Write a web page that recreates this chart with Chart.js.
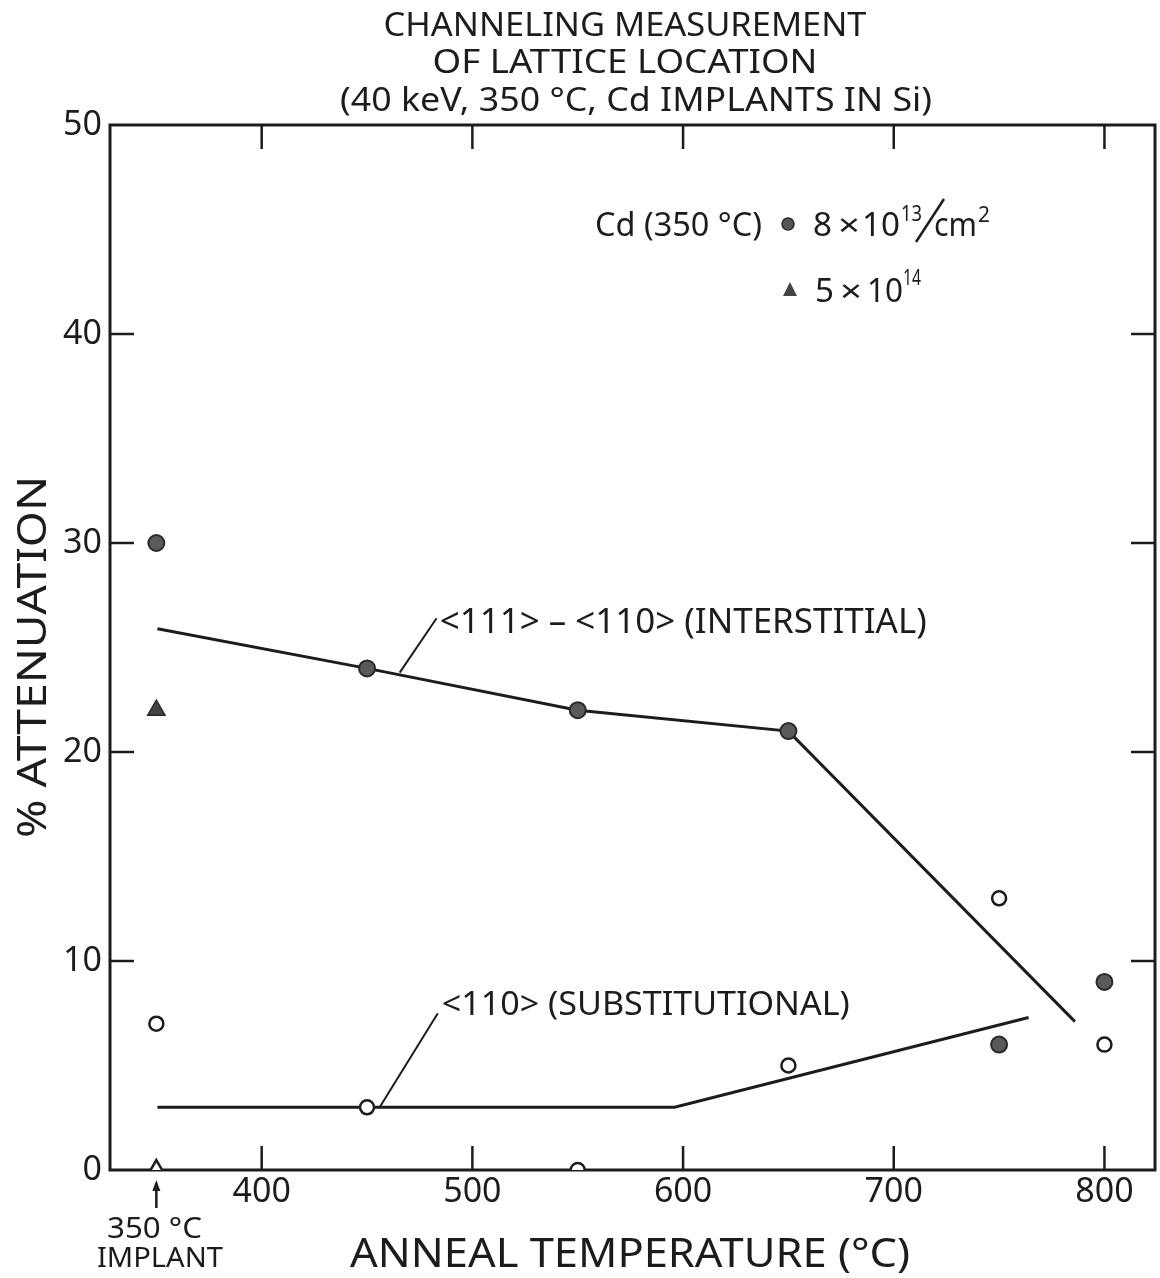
<!DOCTYPE html>
<html>
<head>
<meta charset="utf-8">
<title>Channeling measurement of lattice location</title>
<script src="https://cdn.jsdelivr.net/npm/chart.js@4.4.1/dist/chart.umd.min.js"></script>
<style>
  html, body { margin: 0; padding: 0; background: #fff; }
  #wrap { width: 1160px; height: 1278px; }
</style>
</head>
<body>
<div id="wrap"><canvas id="chart" width="1160" height="1278"></canvas></div>
<script>
// anneal temperatures in °C (350 = as implanted)
const temps = [350, 450, 550, 650, 750, 800];
// 8x10^13/cm^2 dose: <111>-<110> attenuation (filled circles)
const interstitialPct = [30, 24, 22, 21, 6, 9];
// 8x10^13/cm^2 dose: <110> attenuation (open circles)
const substitutionalPct = [7, 3, 0, 5, 13, 6];
// 5x10^14 dose, measured only after the implant
const highDoseTemps = [350];
const highDoseInterstitial = [22];
const highDoseSubstitutional = [0];

// hand drawn trend lines
const interstitialFitX = [350.5, 450, 550, 650, 786];
const interstitialFitY = [25.9, 24, 22, 21, 7.1];
const substitutionalFitX = [350.5, 596, 764];
const substitutionalFitY = [3, 3, 7.3];

const xTicks = [400, 500, 600, 700, 800];
const yTicks = [0, 10, 20, 30, 40, 50];

const INK = '#1c1c1c';
const FONT = '"Noto Sans", "DejaVu Sans", sans-serif';

const pts = (xs, ys) => xs.map((x, i) => ({ x, y: ys[i] }));

// text squeezed/stretched to a given width (lettering-guide look)
function letter(ctx, str, x, y, size, width, align, rot) {
    ctx.save();
    ctx.font = size + 'px ' + FONT;
    const w = ctx.measureText(str).width;
    const k = width ? width / w : 1;
    ctx.translate(x, y);
    if (rot) ctx.rotate(rot);
    ctx.scale(k, 1);
    ctx.textAlign = align || 'left';
    ctx.textBaseline = 'alphabetic';
    ctx.fillStyle = INK;
    ctx.fillText(str, 0, 0);
    ctx.restore();
}

function seg(ctx, x1, y1, x2, y2, lw) {
    ctx.beginPath();
    ctx.moveTo(x1, y1);
    ctx.lineTo(x2, y2);
    ctx.lineWidth = lw || 2.5;
    ctx.strokeStyle = INK;
    ctx.stroke();
}

const framePlugin = {
    id: 'frame',
    beforeDatasetsDraw(chart) {
        const { ctx, chartArea: a, scales: { x, y } } = chart;
        const tl = 24;
        ctx.save();
        ctx.lineCap = 'square';
        ctx.strokeStyle = INK;
        ctx.lineWidth = 3;
        ctx.strokeRect(a.left, a.top, a.right - a.left, a.bottom - a.top);
        ctx.lineCap = 'butt';
        xTicks.forEach(v => {
            const px = x.getPixelForValue(v);
            seg(ctx, px, a.bottom, px, a.bottom - tl, 2.5);
            seg(ctx, px, a.top, px, a.top + tl, 2.5);
        });
        yTicks.slice(1, -1).forEach(v => {
            const py = y.getPixelForValue(v);
            seg(ctx, a.left, py, a.left + tl, py, 2.5);
            seg(ctx, a.right, py, a.right - tl, py, 2.5);
        });

        // leader lines from the labels to the curves
        seg(ctx, x.getPixelForValue(465.5), y.getPixelForValue(23.8),
                 x.getPixelForValue(483), y.getPixelForValue(26.4), 2);
        seg(ctx, x.getPixelForValue(456), y.getPixelForValue(3.0),
                 x.getPixelForValue(483.6), y.getPixelForValue(7.5), 2);
        ctx.restore();
    },
    afterDraw(chart) {
        const { ctx, scales: { x, y } } = chart;
        ctx.save();

        // title block
        letter(ctx, 'CHANNELING MEASUREMENT', 625, 36, 32, 483, 'center');
        letter(ctx, 'OF LATTICE LOCATION', 625, 73, 32, 385, 'center');
        letter(ctx, '(40 keV, 350 °C, Cd IMPLANTS IN Si)', 636, 111, 32, 592, 'center');

        // axis titles
        letter(ctx, '% ATTENUATION', 46, 657, 40, 362, 'center', -Math.PI / 2);
        letter(ctx, 'ANNEAL TEMPERATURE (°C)', 350, 1267, 40, 560, 'left');

        // implant marker under the axis
        const ix = x.getPixelForValue(350);
        seg(ctx, ix, 1208, ix, 1188, 2.5);
        ctx.beginPath();
        ctx.moveTo(ix, 1180);
        ctx.lineTo(ix - 4, 1191);
        ctx.lineTo(ix + 4, 1191);
        ctx.closePath();
        ctx.fillStyle = INK;
        ctx.fill();
        letter(ctx, '350 °C', 107, 1238, 29, 95, 'left');
        letter(ctx, 'IMPLANT', 97, 1267, 28, 126, 'left');

        // curve labels
        letter(ctx, '<111> – <110> (INTERSTITIAL)', x.getPixelForValue(484.5), y.getPixelForValue(25.7), 35, 487, 'left');
        letter(ctx, '<110> (SUBSTITUTIONAL)', x.getPixelForValue(485.5), y.getPixelForValue(7.4), 33, 408, 'left');

        // key
        letter(ctx, 'Cd (350 °C)', 595, 236, 33, 167, 'left');
        ctx.beginPath();
        ctx.arc(788, 224, 6, 0, Math.PI * 2);
        ctx.fillStyle = '#555';
        ctx.fill();
        ctx.lineWidth = 1.5;
        ctx.strokeStyle = '#2a2a2a';
        ctx.stroke();
        letter(ctx, '8', 813, 236, 33, 19, 'left');
        letter(ctx, '×', 838, 236, 30, 22, 'left');
        letter(ctx, '10', 862, 236, 33, 38, 'left');
        letter(ctx, '13', 901, 221, 22, 21, 'left');
        seg(ctx, 916, 242, 944, 199, 2.5);
        letter(ctx, 'cm', 934, 236, 33, 43, 'left');
        letter(ctx, '2', 978, 222, 22, 12, 'left');

        ctx.beginPath();
        ctx.moveTo(790, 282);
        ctx.lineTo(783, 296);
        ctx.lineTo(797, 296);
        ctx.closePath();
        ctx.fillStyle = '#444';
        ctx.fill();
        letter(ctx, '5', 815, 302, 33, 19, 'left');
        letter(ctx, '×', 840, 302, 30, 22, 'left');
        letter(ctx, '10', 867, 302, 33, 36, 'left');
        letter(ctx, '14', 903, 285, 22, 18, 'left');

        ctx.restore();
    }
};

const tickFont = { family: FONT, size: 34 };

new Chart(document.getElementById('chart'), {
    type: 'scatter',
    data: {
        datasets: [
            {
                label: '8x10^13 <111>-<110>',
                data: pts(temps, interstitialPct),
                pointStyle: 'circle',
                pointRadius: 8,
                backgroundColor: '#5a5a5a',
                borderColor: '#2a2a2a',
                borderWidth: 2,
                order: 1
            },
            {
                label: '8x10^13 <110>',
                data: pts(temps, substitutionalPct),
                pointStyle: 'circle',
                pointRadius: 7,
                backgroundColor: '#ffffff',
                borderColor: INK,
                borderWidth: 2.5,
                order: 1
            },
            {
                label: '5x10^14 <111>-<110>',
                data: pts(highDoseTemps, highDoseInterstitial),
                pointStyle: 'triangle',
                pointRadius: 10,
                backgroundColor: '#444',
                borderColor: '#2a2a2a',
                borderWidth: 1.5,
                order: 1
            },
            {
                label: '5x10^14 <110>',
                data: pts(highDoseTemps, highDoseSubstitutional),
                pointStyle: 'triangle',
                pointRadius: 10,
                backgroundColor: '#ffffff',
                borderColor: INK,
                borderWidth: 2.5,
                order: 1
            },
            {
                label: 'interstitial trend',
                data: pts(interstitialFitX, interstitialFitY),
                showLine: true,
                pointRadius: 0,
                borderColor: INK,
                borderWidth: 3,
                order: 2
            },
            {
                label: 'substitutional trend',
                data: pts(substitutionalFitX, substitutionalFitY),
                showLine: true,
                pointRadius: 0,
                borderColor: INK,
                borderWidth: 3,
                order: 2
            }
        ]
    },
    options: {
        responsive: false,
        animation: false,
        layout: { autoPadding: false, padding: { top: 125, right: 5, left: 0, bottom: 0 } },
        plugins: {
            legend: { display: false },
            tooltip: { enabled: false }
        },
        scales: {
            x: {
                type: 'linear',
                min: 328,
                max: 824,
                afterBuildTicks: s => { s.ticks = xTicks.map(v => ({ value: v })); },
                afterFit: s => { s.height = 108; },
                ticks: { font: tickFont, color: INK, padding: 2, maxRotation: 0, autoSkip: false },
                grid: { display: false, drawTicks: false },
                border: { display: false }
            },
            y: {
                min: 0,
                max: 50,
                afterBuildTicks: s => { s.ticks = yTicks.map(v => ({ value: v })); },
                afterFit: s => { s.width = 110; },
                ticks: { font: tickFont, color: INK, padding: 8 },
                grid: { display: false, drawTicks: false },
                border: { display: false }
            }
        }
    },
    plugins: [framePlugin]
});
</script>
</body>
</html>
